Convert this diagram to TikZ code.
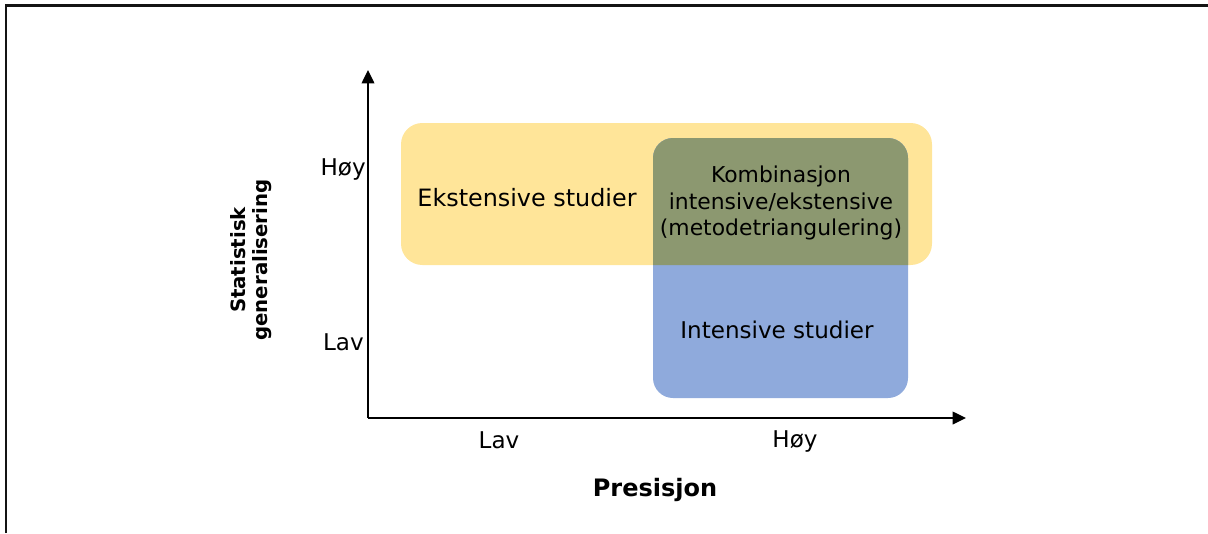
\documentclass[tikz,border=0pt]{standalone}
\usepackage{fontspec}
\setmainfont{DejaVu Sans}
\usetikzlibrary{arrows.meta}
\definecolor{extyellow}{RGB}{255,229,153}
\definecolor{intblue}{RGB}{143,170,220}
\definecolor{combgreen}{RGB}{140,152,112}
\definecolor{framegray}{RGB}{20,20,20}
\tikzset{
  axis/.style={line width=1.1pt, -{Triangle[length=10pt,width=9.5pt]}},
  ticklabel/.style={inner sep=0pt, font=\fontsize{17.3}{20}\selectfont},
  regionlabel/.style={inner sep=0pt, align=center},
  axistitle/.style={inner sep=0pt, align=center, font=\bfseries}
}
\begin{document}
\begin{tikzpicture}[x=0.75pt,y=-0.75pt]
  \useasboundingbox (0,0) rectangle (1208,533);
  % page frame (top and left edges)
  \draw[framegray, line width=1.8pt] (6,533) -- (6,5.5) -- (1208,5.5);

  % regions
  \fill[extyellow, rounded corners=16pt] (401,123) rectangle (932,265);
  \fill[intblue, rounded corners=15pt] (653,138) rectangle (908,398);
  \begin{scope}
    \clip[rounded corners=16pt] (401,123) rectangle (932,265);
    \fill[combgreen, rounded corners=15pt] (653,138) rectangle (908,398);
  \end{scope}

  % axes
  \coordinate (O) at (368,418);
  \coordinate (ytip) at (368,70);
  \coordinate (xtip) at (966,418);
  \draw[axis] (O) -- (ytip);
  \draw[axis] (O) -- (xtip);

  % tick labels
  \node[ticklabel, anchor=base east] (yhigh) at (366,175) {Høy};
  \node[ticklabel, anchor=base east] (ylow) at (364,350) {Lav};
  \node[ticklabel, anchor=base] (xlow) at (499,448) {Lav};
  \node[ticklabel, anchor=base] (xhigh) at (795,447) {Høy};

  % axis titles
  \node[axistitle, font=\bfseries\fontsize{18}{22}\selectfont, anchor=base] (xtitle) at (655,496) {Presisjon};
  \node[axistitle, font=\bfseries\fontsize{14.8}{16.5}\selectfont, rotate=90] (ytitle) at (251,260) {Statistisk\\generalisering};

  % region labels
  \node[regionlabel, font=\fontsize{17.9}{21}\selectfont] (ext) at (527,198) {Ekstensive studier};
  \node[regionlabel, font=\fontsize{16.4}{19.9}\selectfont] (comb) at (781,203) {Kombinasjon\\intensive/ekstensive\\(metodetriangulering)};
  \node[regionlabel, font=\fontsize{17.3}{21}\selectfont] (int) at (777,330) {Intensive studier};
\end{tikzpicture}
\end{document}
